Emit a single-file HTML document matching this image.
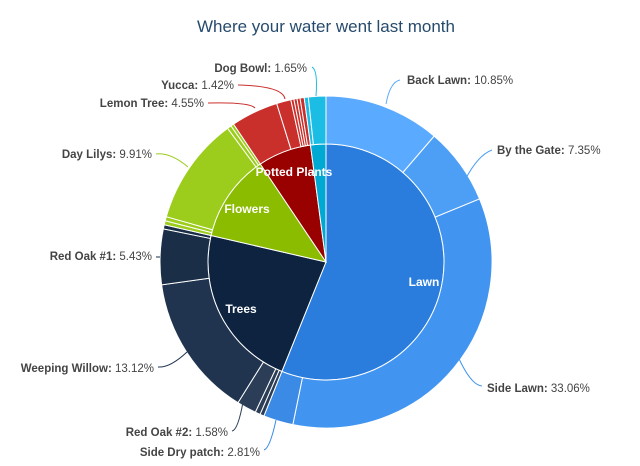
<!DOCTYPE html>
<html><head><meta charset="utf-8"><style>
body{margin:0;background:#fff;width:640px;height:466px;overflow:hidden}
svg{display:block;font-family:"Liberation Sans",sans-serif}
.l{font-size:11.5px;fill:#444}
.l tspan.b{font-weight:bold}
</style></head><body>
<svg id="s" width="640" height="466" viewBox="0 0 640 466">
<text x="326" y="32" text-anchor="middle" font-size="17" fill="#274b6d">Where your water went last month</text>
<g id="g"></g>
<g fill="none" stroke-width="1">
<path d="M386 104 Q390 82 400 80" stroke="#5aabff"/>
<path d="M465 180 Q478 155 492 150" stroke="#4c9ff5"/>
<path d="M456 352 Q470 385 482 386" stroke="#4194f0"/>
<path d="M276 420 Q270 448 264 450" stroke="#3a8ae6"/>
<path d="M243 402 Q238 430 232 431" stroke="#2c3e57"/>
<path d="M187 352 Q170 368 158 367" stroke="#20344f"/>
<path d="M160 257 L156 257" stroke="#1b2e47"/>
<path d="M188 167 Q170 152 156 154" stroke="#9ccc1c"/>
<path d="M255 108 Q250 102 208 103" stroke="#c9302c"/>
<path d="M285 99 Q283 86 238 85" stroke="#c9302c"/>
<path d="M316 96 Q318 70 312 67" stroke="#1bbde4"/>
</g>
<g class="l">
<text x="407" y="84"><tspan class="b">Back Lawn:</tspan> 10.85%</text>
<text x="497" y="154"><tspan class="b">By the Gate:</tspan> 7.35%</text>
<text x="487" y="392"><tspan class="b">Side Lawn:</tspan> 33.06%</text>
<text x="260" y="456" text-anchor="end"><tspan class="b">Side Dry patch:</tspan> 2.81%</text>
<text x="228" y="436" text-anchor="end"><tspan class="b">Red Oak #2:</tspan> 1.58%</text>
<text x="154" y="372" text-anchor="end"><tspan class="b">Weeping Willow:</tspan> 13.12%</text>
<text x="152" y="260" text-anchor="end"><tspan class="b">Red Oak #1:</tspan> 5.43%</text>
<text x="152" y="158" text-anchor="end"><tspan class="b">Day Lilys:</tspan> 9.91%</text>
<text x="204" y="107" text-anchor="end"><tspan class="b">Lemon Tree:</tspan> 4.55%</text>
<text x="234" y="89" text-anchor="end"><tspan class="b">Yucca:</tspan> 1.42%</text>
<text x="307" y="72" text-anchor="end"><tspan class="b">Dog Bowl:</tspan> 1.65%</text>
</g>
<g id="t" font-size="12" font-weight="bold" fill="#fff" text-anchor="middle">
<text x="424" y="286">Lawn</text>
<text x="241" y="313">Trees</text>
<text x="247" y="213">Flowers</text>
<text x="294" y="176">Potted Plants</text>
</g>
</svg>
<script>
var cx=326,cy=262;
function pt(r,p){var a=p*3.6*Math.PI/180;return [cx+r*Math.sin(a),cy-r*Math.cos(a)];}
function arc(r0,r1,p0,p1,c){
 var la=(p1-p0)>50?1:0,a=pt(r1,p0),b=pt(r1,p1),d;
 if(r0==0){d="M"+cx+" "+cy+"L"+a+"A"+r1+" "+r1+" 0 "+la+" 1 "+b+"Z";}
 else{var e=pt(r0,p1),f=pt(r0,p0);d="M"+a+"A"+r1+" "+r1+" 0 "+la+" 1 "+b+"L"+e+"A"+r0+" "+r0+" 0 "+la+" 0 "+f+"Z";}
 return '<path d="'+d+'" fill="'+c+'" stroke="#fff" stroke-width="1"/>';
}
var inner=[[0,56.1,"#2a7ddd"],[56.1,78.6,"#0d2340"],[78.6,90.6,"#8bbc00"],[90.6,97.9,"#990000"],[97.9,100,"#00a8d4"]];
var outer=[[0,11.3,"#5aabff"],[11.3,18.8,"#4c9ff5"],[18.8,53.2,"#4194f0"],[53.2,56.1,"#3a8ae6"],
[56.1,56.5,"#2c3e57"],[56.5,57.0,"#2c3e57"],[57.0,58.9,"#2c3e57"],[58.9,72.8,"#20344f"],[72.8,78.2,"#1b2e47"],[78.2,78.6,"#1b2e47"],
[78.6,79.0,"#9ccc1c"],[79.0,79.4,"#9ccc1c"],[79.4,89.9,"#9ccc1c"],[89.9,90.3,"#9ccc1c"],[90.3,90.6,"#9ccc1c"],
[90.6,95.2,"#c9302c"],[95.2,96.6,"#c9302c"],[96.6,96.9,"#c9302c"],[96.9,97.2,"#c9302c"],[97.2,97.5,"#c9302c"],[97.5,97.9,"#c9302c"],
[97.9,98.3,"#1bbde4"],[98.3,100,"#1bbde4"]];
var h="";
inner.forEach(function(s){h+=arc(0,118,s[0],s[1],s[2]);});
outer.forEach(function(s){h+=arc(118,166,s[0],s[1],s[2]);});
document.getElementById("g").innerHTML=h;
</script>
</body></html>
